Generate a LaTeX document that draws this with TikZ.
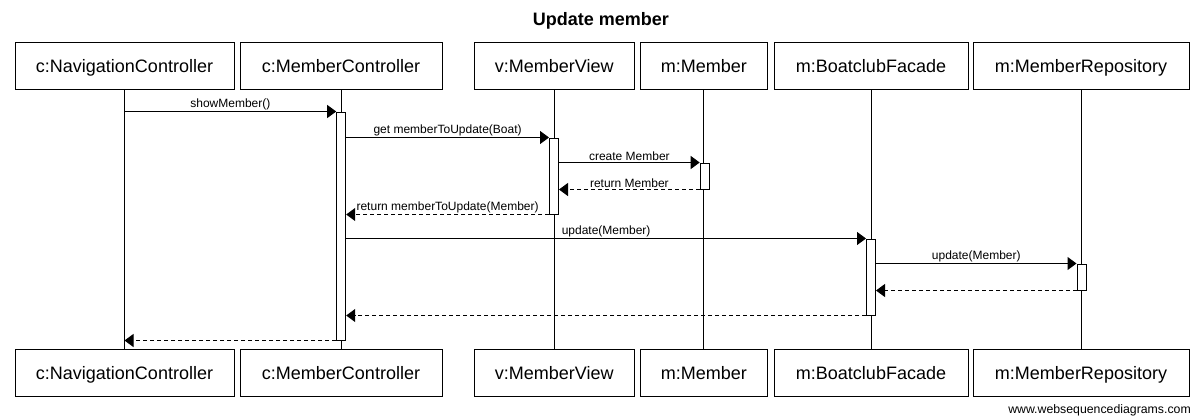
\documentclass[tikz,border=0pt]{standalone}
\usepackage{fontspec}
\setmainfont{Liberation Sans}
\usetikzlibrary{arrows.meta}
\begin{document}
\begin{tikzpicture}[x=1pt,y=-1pt,
 obj/.style={draw, line width=1pt, inner sep=0pt, minimum height=47pt, text height=13pt, text depth=0pt, font=\fontsize{18}{20}\selectfont},
 act/.style={draw, fill=white, line width=1pt, minimum width=9pt, inner sep=0pt},
 msg/.style={line width=1pt, -{Triangle[length=9pt,width=13pt]}},
 ret/.style={msg, dash pattern=on 4pt off 3pt},
 lbl/.style={font=\fontsize{12}{14}\selectfont, above, inner sep=1.5pt, midway},
 life/.style={line width=1pt}]
\useasboundingbox (0,0) rectangle (1201,416);

\node[font=\bfseries\fontsize{18}{20}\selectfont] (title) at (601,21) {Update member};

% top boxes
\node[obj, minimum width=219pt] (ncT) at (124.5,65.5) {c:NavigationController};
\node[obj, minimum width=202pt] (mcT) at (341,65.5) {c:MemberController};
\node[obj, minimum width=160pt] (mvT) at (554.3,65.5) {v:MemberView};
\node[obj, minimum width=127pt] (mT) at (703.8,65.5) {m:Member};
\node[obj, minimum width=194pt] (bfT) at (871,65.5) {m:BoatclubFacade};
\node[obj, minimum width=216pt] (mrT) at (1081,65.5) {m:MemberRepository};
% bottom boxes
\node[obj, minimum width=219pt] (ncB) at (124.5,373) {c:NavigationController};
\node[obj, minimum width=202pt] (mcB) at (341,373) {c:MemberController};
\node[obj, minimum width=160pt] (mvB) at (554.3,373) {v:MemberView};
\node[obj, minimum width=127pt] (mB) at (703.8,373) {m:Member};
\node[obj, minimum width=194pt] (bfB) at (871,373) {m:BoatclubFacade};
\node[obj, minimum width=216pt] (mrB) at (1081,373) {m:MemberRepository};

% lifelines
\draw[life] (ncT) -- (ncB);
\draw[life] (mcT) -- (mcB);
\draw[life] (mvT) -- (mvB);
\draw[life] (mT) -- (mB);
\draw[life] (bfT) -- (bfB);
\draw[life] (mrT) -- (mrB);

% activations
\node[act, minimum height=228pt] (a1) at (341.2,226) {};
\node[act, minimum height=76pt] (a2) at (554,176) {};
\node[act, minimum height=26pt] (a3) at (704.7,176) {};
\node[act, minimum height=76pt] (a4) at (871,277) {};
\node[act, minimum height=26pt] (a5) at (1081.5,277) {};

% messages
\draw[msg] (ncT.south |- a1.north) -- node[lbl] {showMember()} (a1.north west);
\draw[msg] (a1.east |- a2.north) -- node[lbl] {get memberToUpdate(Boat)} (a2.north west);
\draw[msg] (a2.east |- a3.north) -- node[lbl] {create Member} (a3.north west);
\draw[ret] (a3.south west) -- node[lbl] {return Member} (a2.east |- a3.south);
\draw[ret] (a2.south west) -- node[lbl] {return memberToUpdate(Member)} (a1.east |- a2.south);
\draw[msg] (a1.east |- a4.north) -- node[lbl] {update(Member)} (a4.north west);
\draw[msg] (a4.east |- a5.north) -- node[lbl] {update(Member)} (a5.north west);
\draw[ret] (a5.south west) -- (a4.east |- a5.south);
\draw[ret] (a4.south west) -- (a1.east |- a4.south);
\draw[ret] (a1.south west) -- (ncT.south |- a1.south);

\node[anchor=east, font=\fontsize{12.3}{14}\selectfont, inner sep=0pt] (foot) at (1191,410) {www.websequencediagrams.com};
\end{tikzpicture}
\end{document}
